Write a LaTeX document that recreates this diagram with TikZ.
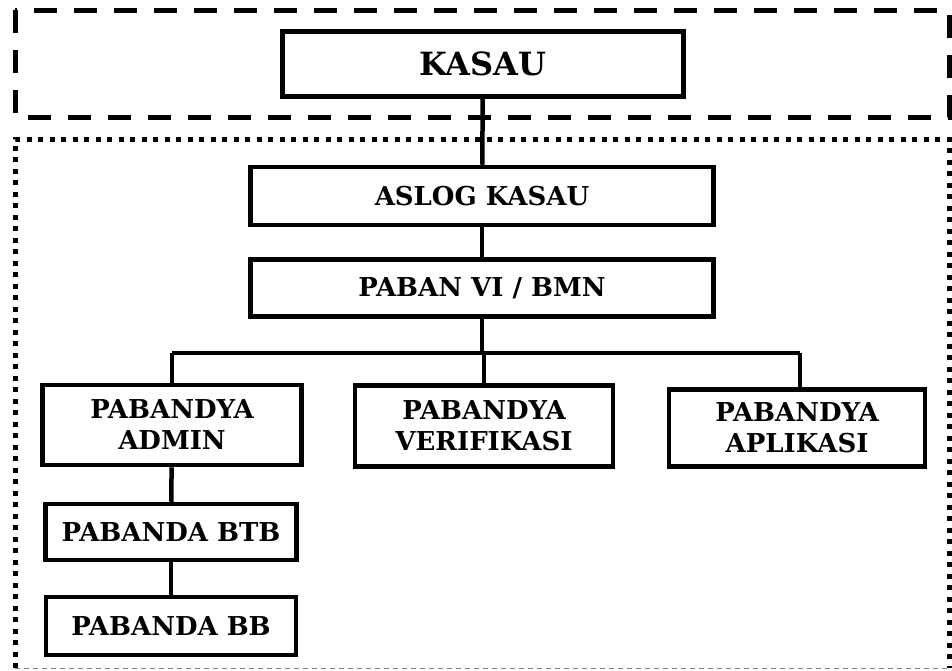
\documentclass[tikz,border=0pt]{standalone}
\usepackage{fontspec}
\setmainfont{DejaVu Serif}
\tikzset{
  kotak/.style = {draw, line width = 4.5pt, inner sep = 0, align = center,
    font = \bfseries\fontsize{26}{31}\selectfont},
  garis/.style = {line width = 4.5pt},
  batasatas/.style = {line width = 5pt, dash pattern = on 23pt off 17pt},
  batasbawah/.style = {line width = 5pt, dash pattern = on 5pt off 6.5pt},
  garistipis/.style = {line width = 1pt, gray, dash pattern = on 5pt off 4pt}
}
\begin{document}
\begin{tikzpicture}[x = 1pt, y = -1pt]
\useasboundingbox (0, 0) rectangle (952, 670);

\node [kotak, minimum width = 401, minimum height = 65,
  font = \bfseries\fontsize{32}{31}\selectfont] (kasau) at (483, 64) {KASAU};
\node [kotak, minimum width = 463, minimum height = 58] (aslog) at (482, 196) {ASLOG KASAU};
\node [kotak, minimum width = 463, minimum height = 57] (paban) at (482, 288) {PABAN VI / BMN};
\node [kotak, minimum width = 259, minimum height = 80] (admin) at (172, 425) {PABANDYA\\ADMIN};
\node [kotak, minimum width = 258, minimum height = 81] (verif) at (484, 426) {PABANDYA\\VERIFIKASI};
\node [kotak, minimum width = 256, minimum height = 77] (aplik) at (797, 428) {PABANDYA\\APLIKASI};
\node [kotak, minimum width = 251, minimum height = 56] (btb) at (171, 532) {PABANDA BTB};
\node [kotak, minimum width = 250, minimum height = 58] (bb) at (171, 626) {PABANDA BB};

\coordinate (kiri) at (172, 353);
\coordinate (kanan) at (800, 353);

\draw [garis] (kasau) -- (aslog);
\draw [garis] (aslog) -- (paban);
\draw [garis] (paban) -- (paban |- kiri);
\draw [garis] (kiri) -- (kanan);
\draw [garis] (kiri) -- (admin);
\draw [garis] (verif |- kiri) -- (verif);
\draw [garis] (kanan) -- (kanan |- aplik.north);
\draw [garis] (admin) -- (btb);
\draw [garis] (btb) -- (bb);

\draw [batasatas] (15, 10) rectangle (949, 117);
\draw [batasbawah] (15, 668) -- (15, 139) -- (949, 139) -- (949, 668);
\draw [garistipis] (15, 668) -- (949, 668);
\end{tikzpicture}
\end{document}
